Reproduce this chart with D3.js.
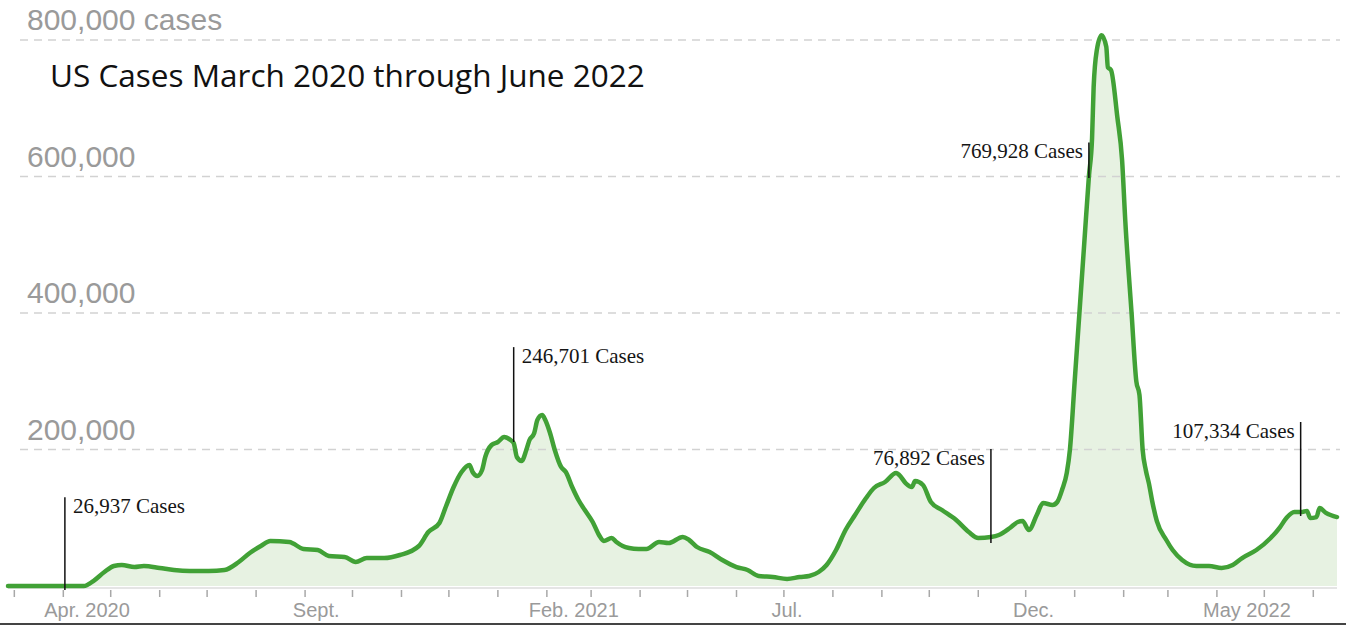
<!DOCTYPE html>
<html>
<head>
<meta charset="utf-8">
<script src="https://cdn.jsdelivr.net/npm/d3@7"></script>
<style>
  html, body { margin: 0; padding: 0; background: #fff; }
  svg { display: block; }
</style>
</head>
<body>
<svg id="chart" width="1346" height="626"></svg>
<script>
// ---------------- DATA ----------------
const dates = [
"2020-02-26","2020-03-17","2020-04-14","2020-04-20","2020-04-27","2020-05-03","2020-05-08","2020-05-16","2020-05-22","2020-06-01",
"2020-06-10","2020-06-20","2020-07-02","2020-07-12","2020-07-21","2020-07-28","2020-08-04","2020-08-10","2020-08-22","2020-08-31",
"2020-09-09","2020-09-16","2020-09-26","2020-10-03","2020-10-10","2020-10-21","2020-10-31","2020-11-12","2020-11-18","2020-11-25",
"2020-11-29","2020-12-04","2020-12-09","2020-12-14","2020-12-16","2020-12-19","2020-12-22","2020-12-24","2020-12-28","2021-01-01",
"2021-01-05","2021-01-09","2021-01-11","2021-01-13","2021-01-16","2021-01-19","2021-01-21","2021-01-24","2021-01-26","2021-01-29",
"2021-01-31","2021-02-03","2021-02-06","2021-02-10","2021-02-13","2021-02-17","2021-02-21","2021-02-25","2021-03-02","2021-03-06",
"2021-03-09","2021-03-14","2021-03-17","2021-03-21","2021-03-25","2021-03-31","2021-04-05","2021-04-13","2021-04-19","2021-04-28",
"2021-05-02","2021-05-07","2021-05-15","2021-05-23","2021-06-01","2021-06-08","2021-06-15","2021-06-24","2021-07-03","2021-07-11",
"2021-07-17","2021-07-23","2021-07-28","2021-08-03","2021-08-09","2021-08-15","2021-08-22","2021-08-27","2021-09-03","2021-09-10",
"2021-09-12","2021-09-16","2021-09-20","2021-09-22","2021-09-27","2021-10-02","2021-10-09","2021-10-18","2021-10-26","2021-11-01",
"2021-11-09","2021-11-14","2021-11-21","2021-11-26","2021-11-29","2021-12-03","2021-12-08","2021-12-12","2021-12-18","2021-12-21",
"2021-12-24","2021-12-27","2021-12-29","2022-01-01","2022-01-04","2022-01-07","2022-01-10","2022-01-12","2022-01-13","2022-01-15",
"2022-01-18","2022-01-21","2022-01-22","2022-01-24","2022-01-28","2022-01-31","2022-02-02","2022-02-06","2022-02-09","2022-02-11",
"2022-02-13","2022-02-15","2022-02-17","2022-02-19","2022-02-22","2022-02-28","2022-03-04","2022-03-10","2022-03-19","2022-03-27",
"2022-04-04","2022-04-11","2022-04-17","2022-04-26","2022-05-05","2022-05-11","2022-05-15","2022-05-20","2022-05-25","2022-05-28",
"2022-05-30","2022-06-03","2022-06-05","2022-06-09","2022-06-16"
];
const cases = [
0,0,0,7300,20500,29300,30800,27800,29300,26400,
23400,22000,22000,23400,35200,48400,58600,65900,64500,54200,
52700,44000,42500,35200,41000,41000,45400,58600,79100,92300,
115700,145000,167000,177300,167000,161200,170000,189000,206600,211000,
218300,213900,209500,189000,183200,199300,213900,224200,243200,250500,
243200,224200,199300,174400,167000,145000,126000,111400,93800,74700,
65900,70300,64500,58600,55700,54200,54200,64500,63000,71800,
67400,57100,49800,38100,27800,23400,14700,13200,10300,13200,
14700,20500,30800,52700,82100,104000,128900,143600,152400,165600,
162600,150900,145100,153800,148000,123100,111400,96700,79100,70300,
71800,74700,85000,93800,95200,82100,104000,121600,118700,123100,
140700,165600,200000,300000,400000,500000,600000,656000,731000,785000,
807000,790000,760000,756000,687000,624000,536000,400000,300000,280000,
200000,170000,150000,125000,95000,67400,52700,38100,29300,29300,
26400,30800,41000,52700,70300,86400,99600,108400,108400,110000,
99600,101000,114300,107000,101000
];

const yTickValues = [200000, 400000, 600000, 800000];
const xTickMonthsStart = "2020-03-01";
const xTickMonthsEnd = "2022-06-01";
const xLabelTexts = ["Apr. 2020", "Sept.", "Feb. 2021", "Jul.", "Dec.", "May 2022"];
const xLabelDates = ["2020-04-16", "2020-09-08", "2021-02-18", "2021-07-03", "2021-12-06", "2022-04-20"];

const annLabels = ["26,937 Cases", "246,701 Cases", "769,928 Cases", "76,892 Cases", "107,334 Cases"];
const annDates  = ["2020-04-02", "2021-01-11", "2022-01-10", "2021-11-09", "2022-05-24"];
const annTop    = [130000, 350000, 650000, 200700, 240300];
const annBottom = [-6000, 211000, 597800, 63000, 102600];
const annSide   = ["right", "right", "left", "left", "left"];

const titleText = "US Cases March 2020 through June 2022";

// ---------------- CHART ----------------
const parse = d3.utcParse("%Y-%m-%d");
const data = dates.map((d, i) => ({ date: parse(d), value: cases[i] }));

const svg = d3.select("#chart");
const x = d3.scaleUtc()
  .domain(d3.extent(data, d => d.date))
  .range([8, 1337]);
const y = d3.scaleLinear().domain([0, 800000]).range([586, 40]);

// area fill
const area = d3.area()
  .x(d => x(d.date))
  .y0(y(0))
  .y1(d => y(d.value))
  .curve(d3.curveMonotoneX);
svg.append("path")
  .datum(data)
  .attr("d", area)
  .attr("fill", "#e7f2e2");

// gridlines
svg.append("g").selectAll("line")
  .data(yTickValues)
  .join("line")
  .attr("x1", 20).attr("x2", 1340)
  .attr("y1", d => y(d)).attr("y2", d => y(d))
  .attr("stroke", "#d2d2d2")
  .attr("stroke-width", 1.5)
  .attr("stroke-dasharray", "8,6");

// y labels
svg.append("g").selectAll("text")
  .data(yTickValues)
  .join("text")
  .attr("x", 27)
  .attr("y", d => y(d) - 10)
  .attr("font-family", "Liberation Sans, Arial, sans-serif")
  .attr("font-size", 30)
  .attr("fill", "#9a9a9a")
  .text(d => d3.format(",")(d) + (d === 800000 ? " cases" : ""));

// x axis baseline
svg.append("line")
  .attr("x1", 8).attr("x2", 1337)
  .attr("y1", y(0) + 2).attr("y2", y(0) + 2)
  .attr("stroke", "#dcdcdc").attr("stroke-width", 1.5);

// month ticks
const months = d3.utcMonth.range(parse(xTickMonthsStart), d3.utcDay.offset(parse(xTickMonthsEnd), 1));
svg.append("g").selectAll("line")
  .data(months)
  .join("line")
  .attr("x1", d => x(d)).attr("x2", d => x(d))
  .attr("y1", y(0) + 4).attr("y2", y(0) + 11)
  .attr("stroke", "#a8a8a8").attr("stroke-width", 1.5);

// x labels
svg.append("g").selectAll("text")
  .data(xLabelTexts)
  .join("text")
  .attr("x", (d, i) => x(parse(xLabelDates[i])))
  .attr("y", 617)
  .attr("text-anchor", "middle")
  .attr("font-family", "Liberation Sans, Arial, sans-serif")
  .attr("font-size", 20)
  .attr("fill", "#9a9a9a")
  .text(d => d);

// line
const line = d3.line()
  .x(d => x(d.date))
  .y(d => y(d.value))
  .curve(d3.curveMonotoneX);
svg.append("path")
  .datum(data)
  .attr("d", line)
  .attr("fill", "none")
  .attr("stroke", "#41a136")
  .attr("stroke-width", 4.5)
  .attr("stroke-linejoin", "round")
  .attr("stroke-linecap", "round");

// annotations
const ann = svg.append("g");
annLabels.forEach((lab, i) => {
  const ax = x(parse(annDates[i]));
  const yt = y(annTop[i]);
  ann.append("line")
    .attr("x1", ax).attr("x2", ax)
    .attr("y1", yt).attr("y2", y(annBottom[i]))
    .attr("stroke", "#111").attr("stroke-width", 1.5);
  ann.append("text")
    .attr("x", annSide[i] === "right" ? ax + 8 : ax - 6)
    .attr("y", yt + 16)
    .attr("text-anchor", annSide[i] === "right" ? "start" : "end")
    .attr("font-family", "Liberation Serif, Times New Roman, serif")
    .attr("font-size", 21)
    .attr("fill", "#151515")
    .text(lab);
});

// title (fit to the reference width)
const title = svg.append("text")
  .attr("x", 50)
  .attr("y", 87)
  .attr("font-family", "Open Sans, sans-serif")
  .attr("font-size", 27)
  .attr("fill", "#111")
  .text(titleText);
const tw = title.node().getComputedTextLength();
title.attr("font-size", Math.min(32, 27 * 595 / tw));

// bottom border
svg.append("line")
  .attr("x1", 0).attr("x2", 1346)
  .attr("y1", 624).attr("y2", 624)
  .attr("stroke", "#444").attr("stroke-width", 2);
</script>
</body>
</html>
